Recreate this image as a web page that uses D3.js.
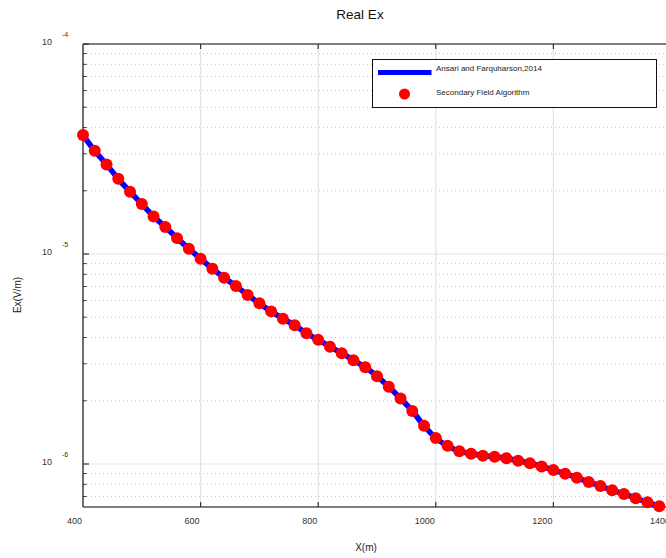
<!DOCTYPE html>
<html>
<head>
<meta charset="utf-8">
<script src="https://cdn.jsdelivr.net/npm/d3@7"></script>
<style>
  body { margin: 0; background: #fff; }
  svg { display: block; font-family: "Liberation Sans", Arial, sans-serif; }
</style>
</head>
<body>
<svg id="chart" width="666" height="558"></svg>
<script>
// ---- data ----
const distance = [400,420,440,460,480,500,520,540,560,580,600,620,640,660,680,700,720,740,760,780,
  800,820,840,860,880,900,920,940,960,980,1000,1020,1040,1060,1080,1100,1120,1140,1160,1180,
  1200,1220,1240,1260,1280,1300,1320,1340,1360,1380];
const exSecondary = [3.686e-5,3.10e-5,2.67e-5,2.28e-5,1.98e-5,1.73e-5,1.51e-5,1.345e-5,1.19e-5,1.06e-5,
  9.50e-6,8.51e-6,7.71e-6,7.04e-6,6.38e-6,5.82e-6,5.33e-6,4.92e-6,4.58e-6,4.19e-6,
  3.90e-6,3.62e-6,3.37e-6,3.12e-6,2.89e-6,2.62e-6,2.33e-6,2.05e-6,1.79e-6,1.52e-6,
  1.33e-6,1.22e-6,1.15e-6,1.12e-6,1.095e-6,1.083e-6,1.064e-6,1.037e-6,1.008e-6,9.73e-7,
  9.36e-7,8.99e-7,8.61e-7,8.21e-7,7.86e-7,7.49e-7,7.20e-7,6.87e-7,6.57e-7,6.29e-7];
const exAnsari = exSecondary.slice();
const xTicks = [400,600,800,1000,1200,1400];
const yMajor = [1e-4,1e-5,1e-6];
const yExps = ["-4","-5","-6"];
const seriesNames = ["Ansari and Farquharson,2014","Secondary Field Algorithm"];
const titleText = "Real Ex", xLabel = "X(m)", yLabel = "Ex(V/m)";

// ---- layout ----
const svg = d3.select("#chart");
const L = 83, R = 671, T = 44, B = 507;
const x = d3.scaleLinear().domain([400,1400]).range([L,R]);
const y = d3.scaleLog().domain([6.24e-7,1e-4]).range([B,T]);

// minor values
const yMinor = [];
[1e-7,1e-6,1e-5].forEach(d => { for (let k=2;k<=9;k++){ const v=k*d; if (v>=6.24e-7 && v<1e-4) yMinor.push(v);} });

const g = svg.append("g");
// minor grid (dotted)
g.selectAll(".mg").data(yMinor).enter().append("line")
  .attr("x1",L).attr("x2",R).attr("y1",d=>y(d)).attr("y2",d=>y(d))
  .attr("stroke","#c8c8c8").attr("stroke-width",1).attr("stroke-dasharray","1,3");
// major grid
g.selectAll(".gy").data(yMajor.filter(d=>d<1e-4)).enter().append("line")
  .attr("x1",L).attr("x2",R).attr("y1",d=>y(d)).attr("y2",d=>y(d))
  .attr("stroke","#e3e3e3").attr("stroke-width",1.2);
g.selectAll(".gx").data(xTicks.filter(d=>d>400)).enter().append("line")
  .attr("x1",d=>x(d)).attr("x2",d=>x(d)).attr("y1",T).attr("y2",B)
  .attr("stroke","#e3e3e3").attr("stroke-width",1.2);

// axes lines
g.append("line").attr("x1",L).attr("x2",R).attr("y1",T).attr("y2",T).attr("stroke","#555").attr("stroke-width",1.3);
g.append("line").attr("x1",L).attr("x2",R).attr("y1",B).attr("y2",B).attr("stroke","#555").attr("stroke-width",1.3);
g.append("line").attr("x1",L).attr("x2",L).attr("y1",T).attr("y2",B).attr("stroke","#222").attr("stroke-width",1.3);

// ticks
xTicks.filter(d=>d>400).forEach(d=>{
  g.append("line").attr("x1",x(d)).attr("x2",x(d)).attr("y1",T).attr("y2",T+5).attr("stroke","#333").attr("stroke-width",1.2);
  g.append("line").attr("x1",x(d)).attr("x2",x(d)).attr("y1",B).attr("y2",B-5).attr("stroke","#333").attr("stroke-width",1.2);
});
yMajor.forEach(d=>{
  g.append("line").attr("x1",L).attr("x2",L+6).attr("y1",y(d)).attr("y2",y(d)).attr("stroke","#333").attr("stroke-width",1.2);
});
yMinor.forEach(d=>{
  g.append("line").attr("x1",L).attr("x2",L+3.5).attr("y1",y(d)).attr("y2",y(d)).attr("stroke","#333").attr("stroke-width",1);
});

// tick labels
xTicks.forEach(d=>{
  g.append("text").attr("x",x(d)-1).attr("y",524).attr("text-anchor","end")
    .attr("font-size",9).attr("fill","#333").text(String(d));
});
yMajor.forEach((d,i)=>{
  g.append("text").attr("x",52).attr("y",y(d)+1).attr("text-anchor","end")
    .attr("font-size",9).attr("fill","#333").text("10");
  g.append("text").attr("x",62).attr("y",y(d)-7).attr("text-anchor","start")
    .attr("font-size",7).attr("fill","#333").text(yExps[i]);
});

// data
const line = d3.line().x((d,i)=>x(distance[i])).y(d=>y(d)).curve(d3.curveMonotoneX);
svg.append("path").datum(exAnsari).attr("d",line).attr("fill","none")
  .attr("stroke","#0000ff").attr("stroke-width",5.5);
svg.selectAll(".pt").data(exSecondary).enter().append("circle")
  .attr("cx",(d,i)=>x(distance[i])).attr("cy",d=>y(d)).attr("r",6).attr("fill","#ff0000");

// legend
const lg = svg.append("g");
lg.append("rect").attr("x",372.5).attr("y",59.5).attr("width",284).attr("height",48)
  .attr("fill","#fff").attr("stroke","#111").attr("stroke-width",1);
lg.append("line").attr("x1",378).attr("x2",431.5).attr("y1",72.5).attr("y2",72.5).attr("stroke","#0000ff").attr("stroke-width",5);
lg.append("circle").attr("cx",404.5).attr("cy",94).attr("r",5.5).attr("fill","#ff0000");
lg.append("text").attr("x",436).attr("y",71).attr("font-size",8).attr("fill","#222").text(seriesNames[0]);
lg.append("text").attr("x",436).attr("y",94.5).attr("font-size",8).attr("fill","#222").text(seriesNames[1]);

// titles
svg.append("text").attr("x",360).attr("y",19).attr("text-anchor","middle").attr("font-size",13.5).attr("fill","#111").text(titleText);
svg.append("text").attr("x",366).attr("y",551).attr("text-anchor","middle").attr("font-size",10).attr("fill","#222").text(xLabel);
svg.append("text").attr("transform","translate(21,295) rotate(-90)").attr("text-anchor","middle").attr("font-size",10).attr("fill","#222").text(yLabel);
</script>
</body>
</html>
